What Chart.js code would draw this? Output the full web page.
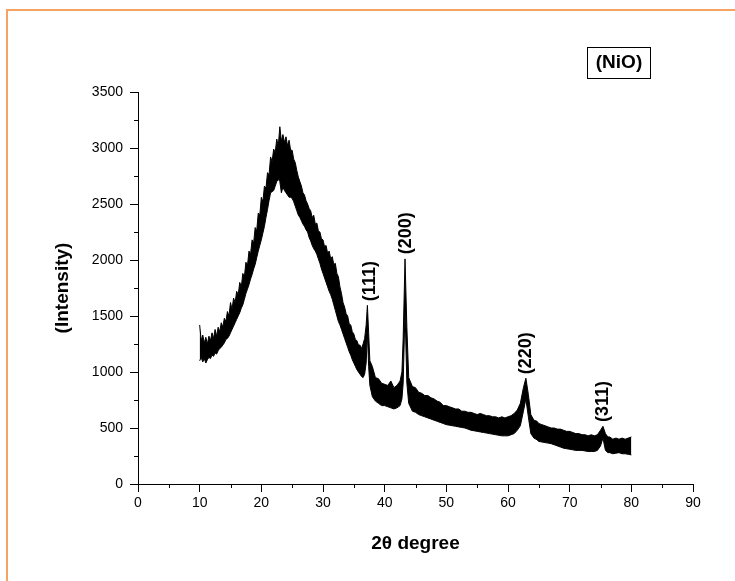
<!DOCTYPE html>
<html>
<head>
<meta charset="utf-8">
<script src="https://cdn.jsdelivr.net/npm/chart.js@4.4.1/dist/chart.umd.min.js"></script>
<style>
  body { margin: 0; background: #fff; }
  #wrap { position: relative; width: 735px; height: 581px; overflow: hidden; }
  #frame { position: absolute; left: 6px; top: 9px; right: -10px; bottom: -10px;
           border-left: 2px solid #f6a262; border-top: 2px solid #f6a262; }
  canvas { position: absolute; left: 0; top: 0; }
</style>
</head>
<body>
<div id="wrap">
  <div id="frame"></div>
  <canvas id="chart" width="735" height="581"></canvas>
</div>
<script>
// 2-theta positions and the upper / lower edge of the noisy trace
const twoTheta = [
  10.00, 10.25, 10.50, 10.75, 11.00, 11.25, 11.50, 11.75, 12.00, 12.25, 12.50, 12.75,
  13.00, 13.25, 13.50, 13.75, 14.00, 14.25, 14.50, 14.75, 15.00, 15.25, 15.50, 15.75,
  16.00, 16.25, 16.50, 16.75, 17.00, 17.25, 17.50, 17.75, 18.00, 18.25, 18.50, 18.75,
  19.00, 19.25, 19.50, 19.75, 20.00, 20.25, 20.50, 20.75, 21.00, 21.25, 21.50, 21.75,
  22.00, 22.25, 22.50, 22.75, 23.00, 23.25, 23.50, 23.75, 24.00, 24.25, 24.50, 24.75,
  25.00, 25.25, 25.50, 25.75, 26.00, 26.25, 26.50, 26.75, 27.00, 27.25, 27.50, 27.75,
  28.00, 28.25, 28.50, 28.75, 29.00, 29.25, 29.50, 29.75, 30.00, 30.25, 30.50, 30.75,
  31.00, 31.25, 31.50, 31.75, 32.00, 32.25, 32.50, 32.75, 33.00, 33.25, 33.50, 33.75,
  34.00, 34.25, 34.50, 34.75, 35.00, 35.25, 35.50, 35.75, 36.00, 36.25, 36.50, 36.75,
  37.0, 37.2, 37.4, 37.6, 38.0, 38.5, 39.0, 39.5, 40.0, 40.5, 41.0, 41.5, 42.0, 42.5, 42.8, 43.0, 43.3, 43.6, 43.9, 44.5,
  45.0, 45.5, 46.0, 46.5, 47.0, 47.5, 48.0, 48.5, 49.0, 49.5, 50.0, 50.5, 51.0, 51.5, 52.0, 52.5, 53.0, 53.5, 54.0, 54.5,
  55.0, 55.5, 56.0, 56.5, 57.0, 57.5, 58.0, 58.5, 59.0, 59.5, 60.0, 60.5, 61.0, 61.5, 62.0, 62.5, 62.9, 63.3, 63.7, 64.2,
  64.7, 65.0, 65.5, 66.0, 66.5, 67.0, 67.5, 68.0, 68.5, 69.0, 69.5, 70.0, 70.5, 71.0, 71.5, 72.0, 72.5, 73.0, 73.5, 74.0,
  74.5, 75.0, 75.4, 75.8, 76.2, 76.5, 77.0, 77.5, 78.0, 78.5, 79.0, 79.5, 80.0
];
const upperI = [
  1420, 1280, 1330, 1260, 1310, 1250, 1320, 1280, 1350, 1300, 1380, 1320,
  1400, 1360, 1440, 1400, 1480, 1450, 1540, 1500, 1620, 1560, 1660, 1620,
  1720, 1690, 1800, 1760, 1880, 1850, 1980, 1950, 2080, 2050, 2180, 2150,
  2290, 2260, 2420, 2400, 2560, 2520, 2660, 2640, 2780, 2760, 2920, 2880,
  2990, 2960, 3080, 3020, 3190, 3060, 3120, 3050, 3100, 3020, 3070, 2980,
  2980, 2900, 2870, 2800, 2740, 2700, 2660, 2600, 2580, 2530, 2500, 2460,
  2440, 2380, 2400, 2320, 2330, 2260, 2250, 2190, 2180, 2120, 2130, 2060,
  2080, 2010, 2030, 1960, 1970, 1880, 1850, 1760, 1700, 1620, 1580, 1520,
  1500, 1430, 1420, 1360, 1340, 1290, 1280, 1240, 1240, 1210, 1250, 1300,
  1420, 1595, 1350, 1100, 1050, 950, 940, 900, 890, 880, 920, 860, 880, 920, 1000, 1300, 2010, 1400, 950, 870,
  860, 820, 810, 790, 790, 770, 760, 740, 730, 700, 700, 690, 680, 670, 670, 650, 650, 640, 640, 630,
  620, 630, 620, 610, 610, 600, 600, 590, 600, 590, 600, 610, 630, 660, 720, 860, 945, 800, 620, 570,
  560, 540, 530, 520, 510, 500, 500, 490, 490, 480, 470, 470, 460, 450, 450, 440, 440, 430, 440, 430,
  440, 480, 515, 450, 420, 420, 400, 410, 400, 410, 400, 410, 420
];
const lowerI = [
  1100, 1130, 1090, 1120, 1080, 1110, 1130, 1120, 1150, 1140, 1170, 1160,
  1190, 1210, 1220, 1240, 1260, 1290, 1300, 1320, 1350, 1380, 1410, 1440,
  1470, 1500, 1530, 1570, 1600, 1650, 1700, 1740, 1780, 1830, 1870, 1920,
  1960, 2020, 2080, 2130, 2180, 2240, 2300, 2380, 2450, 2530, 2600, 2610,
  2620, 2660, 2700, 2720, 2700, 2600, 2650, 2620, 2600, 2580, 2560, 2560,
  2550, 2520, 2480, 2440, 2400, 2380, 2350, 2320, 2300, 2270, 2250, 2200,
  2170, 2130, 2100, 2080, 2050, 2010, 1970, 1920, 1880, 1840, 1800, 1760,
  1720, 1690, 1650, 1600, 1550, 1500, 1450, 1420, 1380, 1340, 1300, 1260,
  1220, 1180, 1150, 1110, 1080, 1050, 1020, 1000, 980, 960, 950, 980,
  1080, 1350, 1050, 880, 780, 740, 720, 700, 700, 690, 680, 670, 680, 700, 760, 900, 1550, 900, 720, 650,
  640, 620, 610, 600, 590, 580, 570, 560, 550, 540, 530, 525, 520, 515, 510, 505, 500, 490, 480, 475,
  470, 465, 460, 455, 450, 445, 440, 435, 430, 430, 430, 440, 450, 480, 520, 650, 760, 600, 450, 410,
  395, 380, 375, 370, 365, 360, 350, 340, 330, 320, 315, 310, 305, 300, 300, 300, 295, 290, 290, 290,
  300, 340, 410, 300, 280, 280, 270, 275, 280, 270, 270, 265, 260
];

const peakPos = [37.6, 43.5, 62.9, 75.4];
const peakTop = [1597, 2016, 945, 517];
const peakLabels = ['(111)', '(200)', '(220)', '(311)'];

const xTicksMinor = [5, 15, 25, 35, 45, 55, 65, 75, 85];
const yTicksMinor = [250, 750, 1250, 1750, 2250, 2750, 3250];

const FONT = 'Liberation Sans, Arial, sans-serif';

const upperPts = twoTheta.map((x, i) => ({ x, y: upperI[i] }));
const lowerPts = twoTheta.map((x, i) => ({ x, y: lowerI[i] }));

const extras = {
  id: 'extras',
  afterDraw(chart) {
    const { ctx, scales: { x, y } } = chart;
    ctx.save();
    ctx.strokeStyle = '#000';
    ctx.lineWidth = 1;
    // minor ticks
    ctx.beginPath();
    xTicksMinor.forEach(v => {
      const px = Math.round(x.getPixelForValue(v)) + 0.5;
      ctx.moveTo(px, y.bottom); ctx.lineTo(px, y.bottom + 4);
    });
    yTicksMinor.forEach(v => {
      const py = Math.round(y.getPixelForValue(v)) + 0.5;
      ctx.moveTo(x.left, py); ctx.lineTo(x.left - 4, py);
    });
    ctx.stroke();

    // peak labels
    ctx.fillStyle = '#000';
    ctx.font = 'bold 18px ' + FONT;
    ctx.textAlign = 'left';
    ctx.textBaseline = 'middle';
    peakLabels.forEach((t, i) => {
      ctx.save();
      ctx.translate(x.getPixelForValue(peakPos[i]), y.getPixelForValue(peakTop[i]) - 4);
      ctx.rotate(-Math.PI / 2);
      ctx.fillText(t, 0, 0);
      ctx.restore();
    });

    // (NiO) box
    ctx.strokeRect(587.5, 47.5, 63, 31);
    ctx.font = 'bold 19px ' + FONT;
    ctx.textAlign = 'center';
    ctx.fillText('(NiO)', 619, 63);
    ctx.restore();
  }
};

new Chart(document.getElementById('chart'), {
  type: 'scatter',
  data: {
    datasets: [
      { data: upperPts, showLine: true, borderColor: '#000', borderWidth: 1, pointRadius: 0, fill: false },
      { data: lowerPts, showLine: true, borderColor: '#000', borderWidth: 1, pointRadius: 0,
        fill: '-1', backgroundColor: '#000' }
    ]
  },
  options: {
    responsive: false,
    animation: false,
    layout: { padding: { left: 0, top: 92, right: 42, bottom: 0 } },
    plugins: { legend: { display: false }, tooltip: { enabled: false } },
    scales: {
      x: {
        type: 'linear', min: 0, max: 90,
        afterFit: s => { s.height = 97; },
        ticks: { stepSize: 10, color: '#000', padding: 3, font: { family: FONT, size: 14 } },
        grid: { drawOnChartArea: false, tickLength: 8, color: '#000' },
        border: { color: '#000', width: 1 },
        title: { display: true, text: '2θ degree', color: '#000',
                 font: { family: FONT, size: 19, weight: 'bold' }, padding: { top: 0, bottom: 26 } }
      },
      y: {
        min: 0, max: 3500,
        afterFit: s => { s.width = 138; },
        ticks: { stepSize: 500, color: '#000', padding: 7, font: { family: FONT, size: 14 },
                 callback: v => String(v) },
        grid: { drawOnChartArea: false, tickLength: 8, color: '#000' },
        border: { color: '#000', width: 1 },
        title: { display: true, text: '(Intensity)', color: '#000',
                 font: { family: FONT, size: 19, weight: 'bold' }, padding: { top: 51, bottom: 0 } }
      }
    }
  },
  plugins: [extras]
});
</script>
</body>
</html>
